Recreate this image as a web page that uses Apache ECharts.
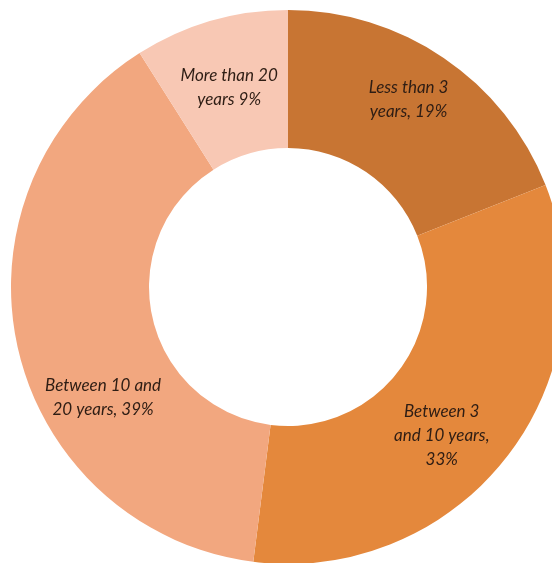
<!DOCTYPE html>
<html>
<head>
<meta charset="utf-8">
<script src="https://cdn.jsdelivr.net/npm/echarts@6/dist/echarts.min.js"></script>
<style>
  html, body { margin: 0; padding: 0; background: #fff; }
  #chart { width: 552px; height: 563px; }
</style>
</head>
<body>
<div id="chart"></div>
<script>
// data
const categories = ['Less than 3 years', 'Between 3 and 10 years', 'Between 10 and 20 years', 'More than 20 years']
const values = [19, 33, 39, 9]
const labelTexts = ['Less than 3\nyears, 19%', 'Between 3\nand 10 years,\n33%', 'Between 10 and\n20 years, 39%', 'More than 20\nyears 9%']
const colors = ['#C87533', '#E4883C', '#F2A77F', '#F8C8B4']

// nudges so labels sit where the original put them
const labelShift = [[2, -13], [-13, 19], [21, 64], [0, 3]]

const chart = echarts.init(document.getElementById('chart'))
chart.setOption({
  backgroundColor: '#fff',
  animation: false,
  series: [{
    type: 'pie',
    center: [288, 287],
    radius: [139, 277],
    startAngle: 90,
    clockwise: true,
    avoidLabelOverlap: false,
    label: {
      show: true,
      position: 'inside',
      fontFamily: 'Lato',
      fontStyle: 'italic',
      fontSize: 17,
      lineHeight: 24,
      color: '#2e1d14',
      align: 'center',
      formatter: p => labelTexts[p.dataIndex]
    },
    labelLine: { show: false },
    labelLayout: function(params) {
      const s = labelShift[params.dataIndex]
      return { dx: s[0], dy: s[1] }
    },
    emphasis: { disabled: true },
    data: categories.map((c, i) => ({
      name: c,
      value: values[i],
      itemStyle: { color: colors[i] }
    }))
  }]
})
</script>
</body>
</html>
